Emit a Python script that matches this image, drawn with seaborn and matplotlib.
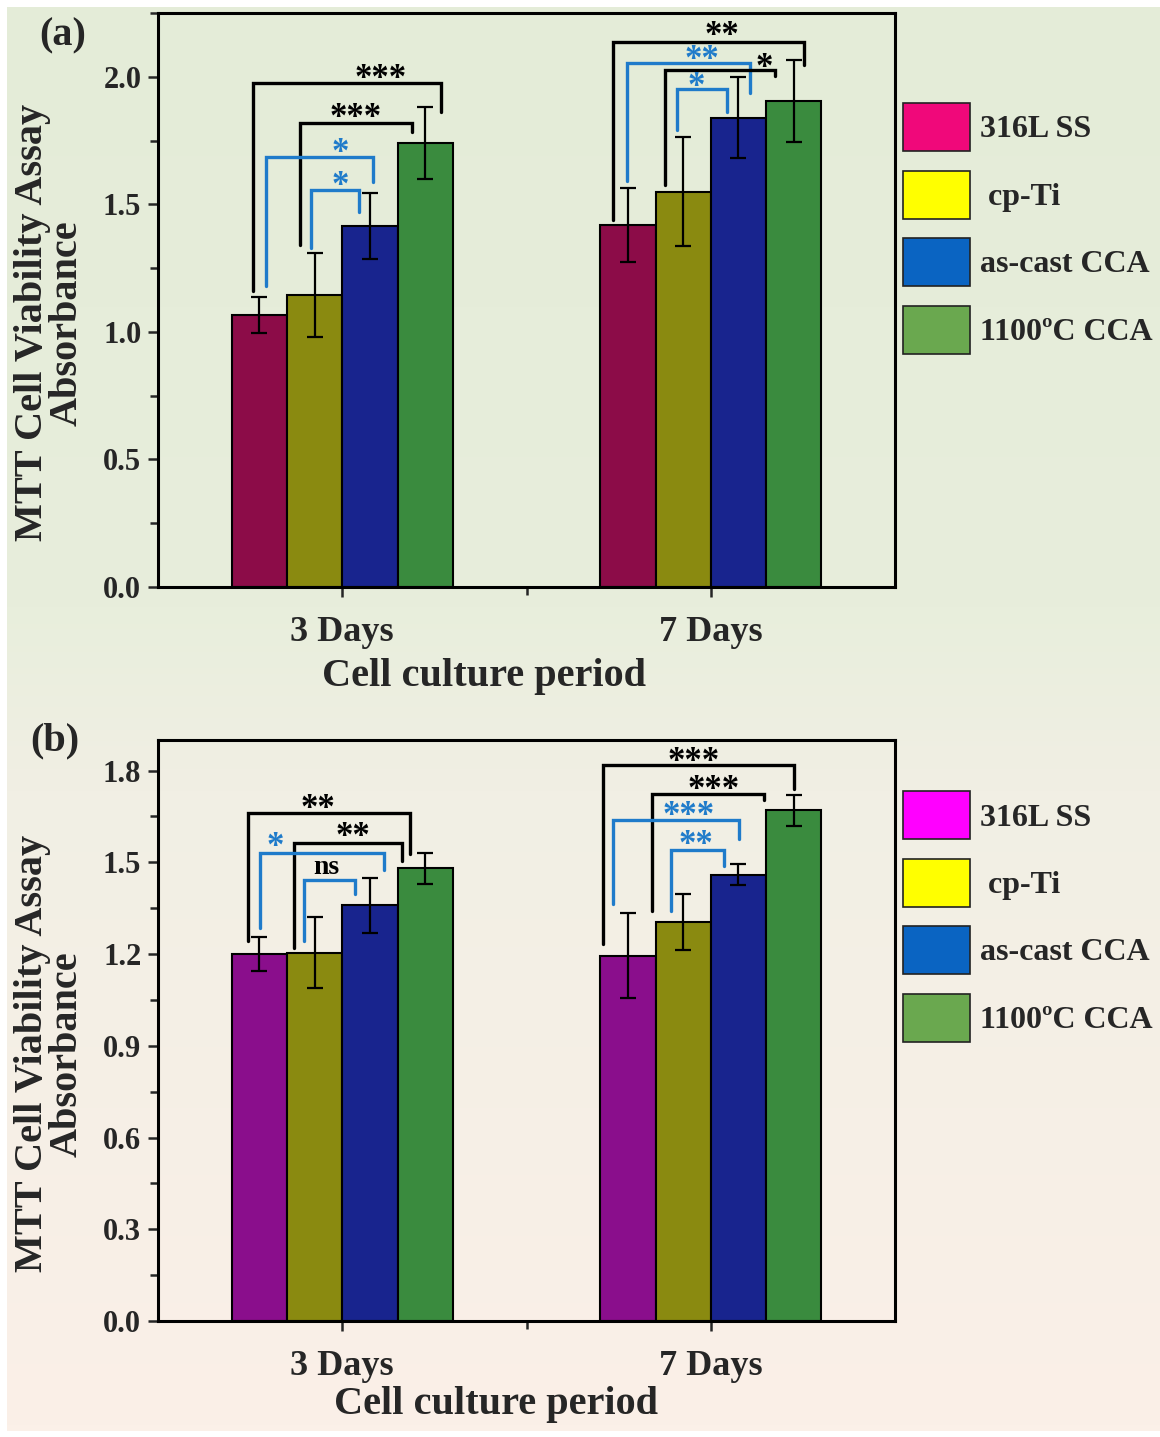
import numpy as np
import pandas as pd
import seaborn as sns
import matplotlib.pyplot as plt
from matplotlib.patches import Patch
from matplotlib.colors import LinearSegmentedColormap
from matplotlib.ticker import MultipleLocator

# ---------------- data ----------------
periods = ['3 Days', '7 Days']
materials = ['316L SS', 'cp-Ti', 'as-cast CCA', '1100ºC CCA']
legend_labels = ['316L SS', ' cp-Ti', 'as-cast CCA', '1100ºC CCA']

# panel (a)
mean_a_3 = [1.065, 1.145, 1.415, 1.74]
mean_a_7 = [1.42, 1.55, 1.84, 1.905]
err_a_3 = [0.07, 0.165, 0.13, 0.14]
err_a_7 = [0.145, 0.215, 0.16, 0.16]

# panel (b)
mean_b_3 = [1.20, 1.205, 1.36, 1.48]
mean_b_7 = [1.195, 1.305, 1.46, 1.67]
err_b_3 = [0.055, 0.115, 0.09, 0.05]
err_b_7 = [0.14, 0.09, 0.035, 0.05]

# significance brackets: x_left, x_right, y_top, y_left_end, y_right_end,
# label, line colour, text colour, text x, text y (visual centre)
brackets_a = [
    (-0.242, 0.269, 1.976, 1.16, 1.863, '***', 'k', 'k', 0.103, 2.02),
    (-0.114, 0.188, 1.82, 1.34, 1.784, '***', 'k', 'k', 0.036, 1.87),
    (-0.207, 0.084, 1.686, 1.18, 1.588, '*', 'b', 'b', -0.005, 1.73),
    (-0.084, 0.046, 1.557, 1.33, 1.47, '*', 'b', 'b', -0.005, 1.60),
    (0.734, 1.253, 2.137, 1.44, 2.047, '**', 'k', 'k', 1.03, 2.19),
    (0.772, 1.106, 2.055, 1.59, 1.937, '**', 'b', 'b', 0.976, 2.095),
    (0.875, 1.174, 2.027, 1.576, 2.004, '*', 'k', 'k', 1.144, 2.065),
    (0.908, 1.043, 1.95, 1.79, 1.863, '*', 'b', 'b', 0.96, 1.99),
]
brackets_b = [
    (-0.255, 0.185, 1.66, 1.242, 1.526, '**', 'k', 'k', -0.065, 1.70),
    (-0.13, 0.163, 1.562, 1.22, 1.503, '**', 'k', 'k', 0.03, 1.607),
    (-0.223, 0.114, 1.532, 1.285, 1.474, '*', 'b', 'b', -0.182, 1.575),
    (-0.103, 0.035, 1.441, 1.242, 1.395, 'ns', 'b', 'k', -0.043, 1.484),
    (0.707, 1.226, 1.819, 1.232, 1.741, '***', 'k', 'k', 0.954, 1.852),
    (0.84, 1.144, 1.725, 1.34, 1.705, '***', 'k', 'k', 1.008, 1.761),
    (0.736, 1.076, 1.637, 1.363, 1.575, '***', 'b', 'b', 0.94, 1.676),
    (0.891, 1.035, 1.539, 1.34, 1.487, '**', 'b', 'b', 0.959, 1.581),
]

bar_cols_a = ['#8c0c48', '#8a8a10', '#18248e', '#3a8b3e']
bar_cols_b = ['#8a0e8c', '#8a8a10', '#18248e', '#3a8b3e']
leg_cols_a = ['#f0087a', '#ffff00', '#0a64c2', '#6aa84f']
leg_cols_b = ['#ff00ff', '#ffff00', '#0a64c2', '#6aa84f']
BLUE = '#1f7bca'

sns.set_style('ticks')
plt.rcParams['font.family'] = ['Liberation Serif', 'DejaVu Serif']
plt.rcParams['font.weight'] = 'bold'
plt.rcParams['axes.labelweight'] = 'bold'


def make_df(m3, m7):
    rows = []
    for p, vals in zip(periods, [m3, m7]):
        for mat, v in zip(materials, vals):
            rows.append({'period': p, 'material': mat, 'value': v})
    return pd.DataFrame(rows)


def draw_panel(ax, m3, m7, e3, e7, bar_cols, leg_cols, brackets, ymax, major,
               leg_y, xlab_pos):
    df = make_df(m3, m7)
    sns.barplot(data=df, x='period', y='value', hue='material',
                hue_order=materials, order=periods, palette=bar_cols,
                width=0.6, edgecolor='black', linewidth=1.5, saturation=1,
                errorbar=None, legend=False, ax=ax)
    errs = [[e3[i], e7[i]] for i in range(4)]
    for cont, er in zip(ax.containers, errs):
        xs = [b.get_x() + b.get_width() / 2 for b in cont]
        ys = [b.get_height() for b in cont]
        ax.errorbar(xs, ys, yerr=er, fmt='none', ecolor='black',
                    elinewidth=1.6, capsize=5.5, capthick=1.6, zorder=4)

    for (xl, xr, yt, yl, yr, lab, lc, tc, tx, ty) in brackets:
        col = BLUE if lc == 'b' else 'black'
        tcol = BLUE if tc == 'b' else 'black'
        ax.plot([xl, xl, xr, xr], [yl, yt, yt, yr], color=col, lw=2.4,
                solid_joinstyle='miter', zorder=5)
        if lab == 'ns':
            off, fs = -5, 20
        else:
            off, fs = -12, 25
        ax.annotate(lab, (tx, ty), xytext=(0, off), textcoords='offset points',
                    ha='center', va='baseline', fontsize=fs,
                    fontweight='bold', color=tcol, zorder=6)

    ax.set_xlim(-0.5, 1.5)
    ax.set_ylim(0, ymax)
    ax.yaxis.set_major_locator(MultipleLocator(major))
    ax.yaxis.set_minor_locator(MultipleLocator(major / 2))
    ax.set_xticks([0, 1])
    ax.set_xticks([0.5], minor=True)
    ax.set_xticklabels(periods, fontsize=26, fontweight='bold')
    ax.yaxis.set_major_formatter(plt.FormatStrFormatter('%.1f'))
    for lab in ax.get_yticklabels():
        lab.set_fontsize(22)
        lab.set_fontweight('bold')
    ax.tick_params(axis='both', which='major', length=7, width=1.8,
                   direction='out')
    ax.tick_params(axis='both', which='minor', length=6, width=1.8,
                   direction='out')
    ax.tick_params(axis='x', which='major', pad=14)
    ax.tick_params(axis='y', which='major', pad=5)
    for s in ax.spines.values():
        s.set_visible(True)
        s.set_linewidth(2.2)
        s.set_color('black')
    ax.set_facecolor('none')
    ax.set_xlabel('Cell culture period', fontsize=29, fontweight='bold')
    ax.set_ylabel('MTT Cell Viability Assay\nAbsorbance', fontsize=29,
                  fontweight='bold', linespacing=0.92)
    ax.yaxis.set_label_coords(-0.098, 0.46)
    ax.xaxis.set_label_coords(*xlab_pos)

    handles = [Patch(facecolor=c, edgecolor='#222222', linewidth=1.2)
               for c in leg_cols]
    ax.legend(handles, legend_labels, loc='upper left',
              bbox_to_anchor=(1.011, leg_y), frameon=False, borderpad=0,
              borderaxespad=0, handlelength=2.1, handleheight=1.95,
              handletextpad=0.3, labelspacing=0.6,
              prop={'family': 'Liberation Serif', 'weight': 'bold',
                    'size': 23})


fig = plt.figure(figsize=(11.6, 14.37), dpi=100)

# background gradient (green on top, beige at bottom)
bg = fig.add_axes([0.006, 0.004, 0.994, 0.991])
bg_cmap = LinearSegmentedColormap.from_list(
    'bg', [(0.0, '#e4ecd8'), (0.42, '#e8eedc'), (0.55, '#f1efe4'),
           (1.0, '#fbf0e8')])
bg.imshow(np.linspace(0, 1, 256).reshape(-1, 1), aspect='auto', cmap=bg_cmap,
          extent=[0, 1, 1, 0])
bg.set_axis_off()

ax_a = fig.add_axes([0.1362, 0.5915, 0.6354, 0.3995])
ax_b = fig.add_axes([0.1362, 0.0807, 0.6354, 0.4043])

draw_panel(ax_a, mean_a_3, mean_a_7, err_a_3, err_a_7, bar_cols_a,
           leg_cols_a, brackets_a, 2.25, 0.5, 0.843, (0.442, -0.124))
draw_panel(ax_b, mean_b_3, mean_b_7, err_b_3, err_b_7, bar_cols_b,
           leg_cols_b, brackets_b, 1.9, 0.3, 0.912, (0.458, -0.112))

fig.text(0.034, 1 - 36 / 1437, '(a)', fontsize=29, fontweight='bold',
         va='center', ha='left')
fig.text(0.026, 1 - 741 / 1437, '(b)', fontsize=29, fontweight='bold',
         va='center', ha='left')

fig.savefig('out.png', dpi=100)
